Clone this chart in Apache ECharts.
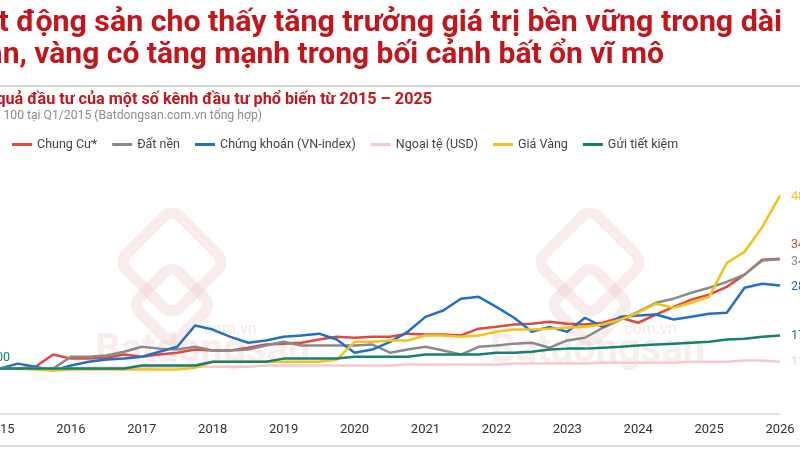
<!DOCTYPE html>
<html>
<head>
<meta charset="utf-8">
<script src="https://cdn.jsdelivr.net/npm/echarts@6/dist/echarts.min.js"></script>
<style>
  html, body { margin: 0; padding: 0; background: #fff; }
  #main { width: 800px; height: 450px; }
</style>
</head>
<body>
<div id="main"></div>
<script>
// nam hien thi tren truc x (moi nam 4 quy)
var years = ['2015', '2016', '2017', '2018', '2019', '2020', '2021', '2022', '2023', '2024', '2025', '2026'];
var seriesNames = ['Chung Cư*', 'Đất nền', 'Chứng khoán (VN-index)', 'Ngoại tệ (USD)', 'Giá Vàng', 'Gửi tiết kiệm'];

// chi so = 100 tai Q1/2015, doc theo quy
var chungCu = [100, 100, 104, 131, 122, 122, 124, 131, 126, 131, 135, 142,
  140, 140, 146, 153, 155, 157, 164, 170, 168, 170, 170,
  177, 175, 175, 173, 188, 192, 197, 199, 203, 199, 197,
  201, 212, 201, 219, 236, 252, 263, 280, 307, 340, 342];
var datNen = [100, 100, 100, 100, 126, 126, 129, 137, 148, 144, 142, 148,
  140, 140, 142, 151, 159, 151, 151, 151, 151, 153, 135,
  142, 148, 140, 131, 148, 151, 155, 157, 146, 162, 168,
  190, 208, 225, 245, 254, 267, 278, 291, 307, 338, 341];
var chungKhoan = [100, 111, 104, 96, 107, 115, 120, 122, 126, 137, 148, 195,
  186, 170, 157, 162, 170, 173, 177, 164, 135, 142, 159,
  181, 214, 228, 254, 258, 236, 212, 181, 192, 181, 212,
  192, 214, 217, 219, 208, 214, 221, 223, 278, 287, 283];
var ngoaiTe = [100, 100, 100, 100, 100, 102, 102, 102, 102, 104, 104, 104,
  104, 104, 104, 107, 107, 107, 107, 107, 107, 107, 107,
  109, 109, 109, 109, 109, 109, 111, 111, 111, 111, 111,
  113, 113, 113, 113, 113, 115, 115, 115, 118, 118, 115];
var giaVang = [100, 100, 98, 96, 98, 98, 98, 98, 98, 98, 98, 102,
  115, 115, 115, 115, 115, 115, 115, 120, 159, 159, 162,
  162, 173, 173, 170, 173, 181, 186, 186, 188, 190, 192,
  197, 208, 223, 243, 234, 245, 258, 333, 357, 412, 481];
var guiTietKiem = [100, 100, 100, 100, 100, 100, 100, 100, 107, 107, 107, 107,
  115, 115, 115, 115, 122, 122, 122, 122, 126, 126, 126, 126,
  131, 131, 131, 131, 135, 135, 137, 142, 144, 144,
  146, 148, 151, 153, 155, 157, 159, 164, 166, 170, 173];

var colors = ['#e0493f', '#8a8a8a', '#2271c2', '#f7c9cc', '#f2c31c', '#17806e'];

// Q1/2015 ... Q1/2026
var quarters = [];
years.forEach(function (y) {
  for (var q = 1; q <= 4; q++) quarters.push('Q' + q + '/' + y);
});
quarters = quarters.slice(0, chungCu.length);

var chart = echarts.init(document.getElementById('main'));

function makeLine(name, data, color, endOffset) {
  return {
    name: name,
    type: 'line',
    data: data,
    symbol: 'none',
    lineStyle: { width: 2.5, color: color },
    itemStyle: { color: color },
    endLabel: {
      show: true,
      distance: 11,
      offset: endOffset || [0, 0],
      color: color,
      fontSize: 12.5,
      fontFamily: 'Roboto',
      formatter: function (p) { return Math.round(p.value); }
    },
    z: 3
  };
}

var savingLine = makeLine(seriesNames[5], guiTietKiem, colors[5]);
// nhan "100" o diem dau
savingLine.markPoint = {
  symbol: 'circle',
  symbolSize: 0.1,
  silent: true,
  itemStyle: { color: colors[5] },
  label: {
    show: true, position: 'top', align: 'right', offset: [10, 0], distance: 4,
    color: colors[5], fontSize: 12.5, fontFamily: 'Roboto',
    formatter: function (p) { return p.value; }
  },
  data: [{ coord: [quarters[0], guiTietKiem[0]], value: guiTietKiem[0] }]
};

var series = [
  makeLine(seriesNames[0], chungCu, colors[0], [0, -14]),
  makeLine(seriesNames[1], datNen, colors[1], [0, 3]),
  makeLine(seriesNames[2], chungKhoan, colors[2], [0, 1]),
  makeLine(seriesNames[3], ngoaiTe, colors[3]),
  makeLine(seriesNames[4], giaVang, colors[4], [0, 1]),
  savingLine
];

var wmColor = '#eab9bc';

var option = {
  animation: false,
  color: colors,
  textStyle: { fontFamily: 'Roboto' },
  graphic: [
    { type: 'text', x: 782, y: 23, style: { text: 'Bất động sản cho thấy tăng trưởng giá trị bền vững trong dài', font: 'bold 30.3px Roboto', fill: '#c3161c', align: 'right', verticalAlign: 'middle' } },
    { type: 'text', x: 664, y: 55, style: { text: 'hạn, vàng có tăng mạnh trong bối cảnh bất ổn vĩ mô', font: 'bold 30px Roboto', fill: '#c3161c', align: 'right', verticalAlign: 'middle' } },
    { type: 'line', shape: { x1: 0, y1: 86, x2: 800, y2: 86 }, style: { stroke: '#d4d4d4', lineWidth: 2 } },
    { type: 'text', x: 432, y: 100, style: { text: 'Hiệu quả đầu tư của một số kênh đầu tư phổ biến từ 2015 – 2025', font: 'bold 16.2px Roboto', fill: '#c3161c', align: 'right', verticalAlign: 'middle' } },
    { type: 'text', x: 262, y: 116, style: { text: 'Chỉ số = 100 tại Q1/2015 (Batdongsan.com.vn tổng hợp)', font: '12.2px Roboto', fill: '#8c8c8c', align: 'right', verticalAlign: 'middle' } },
    { type: 'line', shape: { x1: 0, y1: 446, x2: 800, y2: 446 }, style: { stroke: '#dcdcdc', lineWidth: 2 } },
    // watermark
    { type: 'rect', x: 172, y: 262, rotation: Math.PI / 4, shape: { x: -38, y: -38, width: 76, height: 76, r: 12 }, style: { fill: 'none', stroke: wmColor, lineWidth: 11, opacity: 0.28 }, z: 0 },
    { type: 'rect', x: 172, y: 305, rotation: Math.PI / 4, shape: { x: -28, y: -28, width: 56, height: 56, r: 10 }, style: { fill: 'none', stroke: wmColor, lineWidth: 11, opacity: 0.28 }, z: 0 },
    { type: 'text', x: 95, y: 352, style: { text: 'Batdongsan', font: 'bold 40px Roboto', fill: wmColor, opacity: 0.25, verticalAlign: 'middle' }, z: 0 },
    { type: 'text', x: 200, y: 330, style: { text: '.com.vn', font: '16px Roboto', fill: wmColor, opacity: 0.35, verticalAlign: 'middle' }, z: 0 },
    { type: 'rect', x: 590, y: 262, rotation: Math.PI / 4, shape: { x: -38, y: -38, width: 76, height: 76, r: 12 }, style: { fill: 'none', stroke: wmColor, lineWidth: 11, opacity: 0.28 }, z: 0 },
    { type: 'rect', x: 590, y: 305, rotation: Math.PI / 4, shape: { x: -28, y: -28, width: 56, height: 56, r: 10 }, style: { fill: 'none', stroke: wmColor, lineWidth: 11, opacity: 0.28 }, z: 0 },
    { type: 'text', x: 490, y: 352, style: { text: 'Batdongsan', font: 'bold 40px Roboto', fill: wmColor, opacity: 0.25, verticalAlign: 'middle' }, z: 0 },
    { type: 'text', x: 620, y: 330, style: { text: '.com.vn', font: '16px Roboto', fill: wmColor, opacity: 0.35, verticalAlign: 'middle' }, z: 0 }
  ],
  legend: {
    data: seriesNames,
    left: 12,
    top: 138,
    padding: 0,
    icon: 'rect',
    itemWidth: 20,
    itemHeight: 3,
    itemGap: 15,
    textStyle: { fontSize: 12.5, color: '#444', fontFamily: 'Roboto' }
  },
  grid: { left: 0, right: 20, top: 187, bottom: 36, outerBoundsMode: 'none' },
  xAxis: {
    type: 'category',
    data: quarters,
    boundaryGap: false,
    axisLine: { lineStyle: { color: '#d9d9d9', width: 1.5 } },
    axisTick: { show: false },
    axisLabel: {
      interval: function (i) { return i % 4 === 0; },
      formatter: function (v) { return v.slice(3); },
      color: '#333',
      fontSize: 13,
      margin: 9
    }
  },
  yAxis: {
    type: 'value',
    min: 0,
    max: 500,
    show: false,
    splitLine: { show: false }
  },
  series: series
};

chart.setOption(option);
</script>
</body>
</html>
